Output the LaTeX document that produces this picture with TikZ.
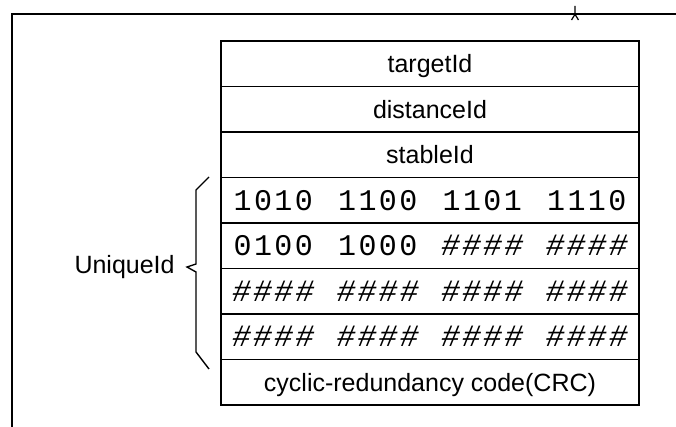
\documentclass[tikz,border=0pt]{standalone}
\usepackage{fontspec}
\setmainfont{Liberation Sans}
\newfontfamily\bitfont[LetterSpace=8]{Liberation Mono}
\usepackage{tikz}
\usetikzlibrary{positioning}
\newcommand{\hashes}{\#\#\#\#}

\begin{document}
\begin{tikzpicture}[x=0.5pt, y=-0.5pt,
    field/.style={draw, line width=0.9pt, outer sep=0pt, inner sep=0pt,
      minimum width=209pt, minimum height=22.75pt,
      text height=8.9pt, text depth=0pt, font=\fontsize{12.5}{14}\selectfont},
    bits/.style={inner sep=0pt, font=\bitfont\fontsize{15}{18}\selectfont},
    hash/.style={inner sep=0pt, font=\bitfont\itshape\fontsize{15.5}{18}\selectfont}]
        \useasboundingbox (0,0) rectangle (676,427);
        % frame
        \draw [line width=0.9pt] (12,427) -- (12,14.3) -- (676,14.3);
        \draw [line width=0.6pt] (575,6) -- (575,14.3) -- (571.5,20);
        \draw [line width=0.6pt] (575,14.3) -- (578.5,20);
        % fields
        \node [field, anchor=north west] (target) at (221,41) {targetId};
        \node [field, below=0pt of target] (distance) {distanceId};
        \node [field, below=0pt of distance] (stable) {stableId};
        \node [field, below=0pt of stable] (uidA) {};
        \node [field, below=0pt of uidA] (uidB) {};
        \node [field, below=0pt of uidB] (uidC) {};
        \node [field, below=0pt of uidC] (uidD) {};
        \node [field, below=0pt of uidD] (crc) {cyclic-redundancy code(CRC)};
        % bits
        \foreach \t [count=\i] in {1010,1100,1101,1110}
          \node [bits] (a\i) at (168.75+104.5*\i,200.25) {\t};
        \node [bits] (b1) at (273.25,245.75) {0100};
        \node [bits] (b2) at (377.75,245.75) {1000};
        \node [hash] (b3) at (482.25,245.75) {\hashes};
        \node [hash] (b4) at (586.75,245.75) {\hashes};
        \foreach \i in {1,...,4} {
          \node [hash] (c\i) at (168.75+104.5*\i,291.25) {\hashes};
          \node [hash] (d\i) at (168.75+104.5*\i,336.75) {\hashes};
        }
        % brace
        \node [anchor=east, inner sep=0pt, font=\fontsize{12.5}{14}\selectfont] (uid) at (175,267) {UniqueId};
        \coordinate (tip) at ([xshift=6pt]uid.east);
        \draw [line width=0.7pt] (209,177) -- (196,190) -- (196,264) -- (tip) -- (196,272) -- (196,352) -- (209,369);
\end{tikzpicture}
\end{document}
